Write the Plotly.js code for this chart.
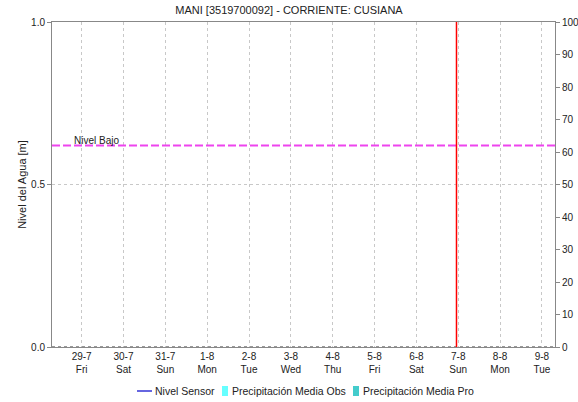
<!DOCTYPE html>
<html>
<head>
<meta charset="utf-8">
<script src="https://cdn.plot.ly/plotly-3.0.1.min.js"></script>
<style>html,body{margin:0;padding:0;background:#fff;}#chart{width:578px;height:402px;}</style>
</head>
<body>
<div id="chart"></div>
<script>
const tickDates = ["2016-07-29","2016-07-30","2016-07-31","2016-08-01","2016-08-02","2016-08-03","2016-08-04","2016-08-05","2016-08-06","2016-08-07","2016-08-08","2016-08-09"];
const tickDays = ["29-7","30-7","31-7","1-8","2-8","3-8","4-8","5-8","6-8","7-8","8-8","9-8"];
const tickWeekdays = ["Fri","Sat","Sun","Mon","Tue","Wed","Thu","Fri","Sat","Sun","Mon","Tue"];
const xRange = ["2016-07-28 07:00","2016-08-09 07:30"];
// No observations are visible in the reference: the series are empty
const nivelSensorX = [null];
const nivelSensorY = [null];
const precipObsX = [null];
const precipObsY = [null];
const precipProX = [null];
const precipProY = [null];
const seriesNames = ["Nivel Sensor","Precipitación Media Obs","Precipitación Media Pro"];
const nivelBajo = 0.62;
const nowTime = "2016-08-06 23:00";

const tickText = tickDays.map((d,i)=>d+"<br>"+tickWeekdays[i]);
const fam = "Liberation Sans, Arial, sans-serif";
const colors = ["#0000cc","#66ffff","#44cccc"];

const data = [
  {type:"scatter", mode:"lines", name:seriesNames[0], x:nivelSensorX, y:nivelSensorY, line:{color:colors[0], width:1.5}, xaxis:"x", yaxis:"y", showlegend:false},
  {type:"bar", name:seriesNames[1], x:precipObsX, y:precipObsY, marker:{color:colors[1]}, xaxis:"x", yaxis:"y2", showlegend:false},
  {type:"bar", name:seriesNames[2], x:precipProX, y:precipProY, marker:{color:colors[2]}, xaxis:"x", yaxis:"y2", showlegend:false}
];

// plot area geometry (px) used to place the hand-drawn legend below the plot
const L = 52, R = 555, T = 22, B = 347;
const px = v => (v - L) / (R - L);
const py = v => (B - v) / (B - T);
const legY = 391;

const layout = {
  width:578, height:402,
  margin:{l:L, r:578-R, t:T, b:402-B},
  paper_bgcolor:"#fff", plot_bgcolor:"#fff",
  font:{family:fam, size:10, color:"#222"},
  title:{text:"MANI [3519700092] - CORRIENTE: CUSIANA", font:{family:fam, size:11, color:"#222"}, x:0.5, xanchor:"center", y:0.985, yanchor:"top"},
  showlegend:false,
  xaxis:{type:"date", range:xRange, tickmode:"array", tickvals:tickDates, ticktext:tickText, showgrid:true, gridcolor:"#c8c8c8", griddash:"dot", gridwidth:1, showline:true, linecolor:"#888", linewidth:1, mirror:true, ticks:"", tickfont:{family:fam, size:10, color:"#222"}, zeroline:false},
  yaxis:{range:[0,1], tickvals:[0,0.5,1], ticktext:["0.0","0.5","1.0"], showgrid:true, gridcolor:"#c8c8c8", griddash:"dot", showline:true, linecolor:"#888", linewidth:1, ticks:"outside", ticklen:4, tickcolor:"#888", zeroline:false, title:{text:"Nivel del Agua [m]", font:{family:fam, size:11, color:"#222"}, standoff:2}},
  yaxis2:{overlaying:"y", side:"right", range:[0,100], dtick:10, showgrid:false, showline:true, linecolor:"#888", linewidth:1, ticks:"outside", ticklen:4, tickcolor:"#888", zeroline:false},
  shapes:[
    {type:"line", xref:"paper", x0:0, x1:1, yref:"y", y0:0, y1:0, line:{color:"#333", width:1, dash:"dot"}},
    {type:"line", xref:"paper", x0:0, x1:1, yref:"y", y0:nivelBajo, y1:nivelBajo, line:{color:"#ee44ee", width:2, dash:"8px,3px"}},
    {type:"line", xref:"x", x0:nowTime, x1:nowTime, yref:"paper", y0:0, y1:1, line:{color:"#ff0000", width:1.5}},
    // legend symbols
    {type:"line", xref:"paper", yref:"paper", x0:px(137), x1:px(152), y0:py(legY), y1:py(legY), line:{color:colors[0], width:1.2}},
    {type:"rect", xref:"paper", yref:"paper", x0:px(222), x1:px(228), y0:py(legY-5), y1:py(legY+5), line:{width:0}, fillcolor:colors[1]},
    {type:"rect", xref:"paper", yref:"paper", x0:px(353), x1:px(359), y0:py(legY-5), y1:py(legY+5), line:{width:0}, fillcolor:colors[2]}
  ],
  annotations:[
    {xref:"paper", x:0.04, xanchor:"left", yref:"y", y:nivelBajo, yanchor:"bottom", text:"Nivel Bajo", showarrow:false, font:{family:fam, size:10, color:"#222"}, yshift:-2},
    {xref:"paper", yref:"paper", x:px(153), y:py(legY), xanchor:"left", yanchor:"middle", text:seriesNames[0], showarrow:false, font:{family:fam, size:10.5, color:"#222"}},
    {xref:"paper", yref:"paper", x:px(230), y:py(legY), xanchor:"left", yanchor:"middle", text:seriesNames[1], showarrow:false, font:{family:fam, size:10.5, color:"#222"}},
    {xref:"paper", yref:"paper", x:px(361), y:py(legY), xanchor:"left", yanchor:"middle", text:seriesNames[2], showarrow:false, font:{family:fam, size:10.5, color:"#222"}}
  ]
};

Plotly.newPlot("chart", data, layout, {displayModeBar:false, staticPlot:true});
</script>
</body>
</html>
